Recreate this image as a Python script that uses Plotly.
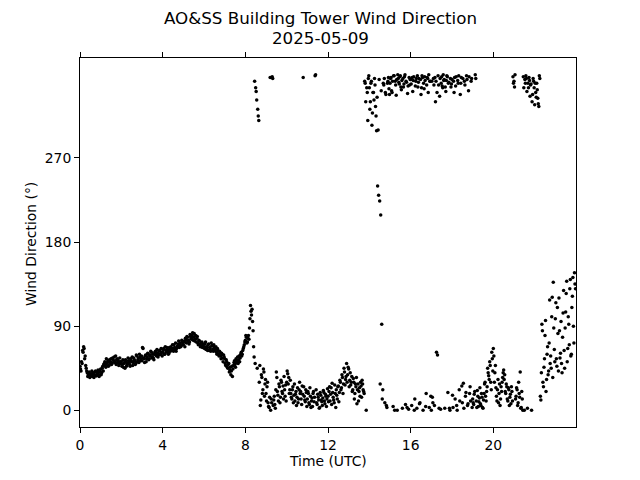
import plotly.graph_objects as go

# Wind direction (degrees).
# Set A: readings every 3 minutes from hh:00; set B: every 3 minutes from hh:01.5
# Each row = one UTC hour (20 readings).
dir_a = [
    [47, 42, 50, 62, 66, 58, 45, 40, 38, 41, 37, 39, 36, 40, 38, 42, 37, 39, 41, 38],
    [44, 40, 47, 49, 52, 46, 50, 53, 48, 51, 55, 50, 54, 57, 52, 49, 55, 53, 50, 52],
    [52, 49, 46, 51, 54, 47, 50, 53, 49, 55, 52, 48, 56, 53, 50, 58, 54, 51, 57, 55],
    [53, 66, 55, 58, 52, 57, 60, 55, 59, 62, 57, 56, 60, 63, 58, 61, 59, 64, 60, 62],
    [62, 66, 60, 64, 67, 63, 61, 65, 68, 64, 66, 70, 65, 63, 68, 71, 67, 72, 69, 73],
    [70, 74, 77, 72, 78, 75, 73, 79, 76, 83, 78, 74, 80, 77, 72, 75, 71, 69, 73, 70],
    [68, 71, 65, 67, 70, 64, 66, 72, 69, 63, 67, 65, 62, 66, 60, 63, 58, 61, 56, 59],
    [55, 48, 52, 45, 50, 43, 38, 47, 44, 51, 49, 55, 53, 50, 58, 56, 62, 60, 66, 70],
    [75, 78, 73, 80, 88, 112, 102, 95, 68, 352, 345, 332, 322, 310, 48, 11, 35, 22, 41, 28],
    [18, 25, 8, 3, 356, 12, 357, 5, 15, 2, 41, 20, 10, 25, 14, 30, 18, 12, 22, 27],
    [30, 39, 35, 22, 18, 12, 25, 16, 10, 20, 14, 8, 22, 18, 12, 26, 356, 15, 9, 19],
    [12, 18, 6, 15, 10, 4, 20, 14, 359, 8, 17, 11, 3, 16, 9, 13, 19, 7, 15, 12],
    [15, 20, 10, 24, 29, 14, 8, 18, 22, 12, 26, 19, 30, 24, 35, 28, 41, 33, 50, 38],
    [44, 32, 27, 36, 22, 30, 18, 25, 7, 28, 20, 15, 26, 32, 22, 18, 350, 0, 340, 355],
    [345, 330, 352, 318, 340, 355, 325, 299, 240, 230, 224, 209, 92, 22, 348, 8, 338, 3, 352, 344],
    [350, 356, 340, 4, 358, 352, 337, 0, 355, 349, 358, 343, 2, 346, 357, 6, 351, 339, 1, 348],
    [354, 5, 341, 357, 12, 352, 2, 346, 355, 8, 338, 358, 0, 344, 353, 18, 356, 340, 3, 352],
    [0, 14, 355, 5, 330, 62, 59, 348, 336, 1, 357, 345, 353, 2, 341, 358, 19, 351, 0, 346],
    [354, 3, 340, 12, 357, 0, 350, 22, 338, 356, 8, 29, 352, 15, 358, 5, 342, 18, 10, 355],
    [12, 6, 20, 355, 3, 15, 9, 24, 5, 14, 2, 18, 30, 10, 25, 40, 33, 48, 22, 55],
    [66, 30, 48, 15, 22, 8, 28, 12, 20, 35, 43, 38, 18, 25, 10, 22, 14, 7, 20, 357],
    [352, 359, 15, 22, 8, 18, 41, 3, 12, 357, 0, 350, 355, 2, 345, 353, 348, 0, 338, 352],
    [327, 340, 350, 334, 325, 355, 11, 92, 30, 46, 80, 20, 60, 38, 72, 50, 45, 121, 137, 65],
    [98, 55, 110, 42, 85, 61, 50, 78, 128, 45, 105, 138, 66, 92, 130, 58, 110, 142, 72, 135],
]
dir_b = [
    [44, 52, 64, 68, 55, 48, 42, 36, 40, 35, 38, 42, 39, 35, 41, 37, 40, 43, 36, 42],
    [38, 45, 42, 50, 48, 55, 51, 47, 54, 52, 49, 56, 53, 51, 58, 54, 51, 48, 56, 50],
    [47, 54, 50, 45, 52, 49, 56, 51, 47, 53, 57, 51, 54, 49, 59, 52, 56, 60, 53, 58],
    [67, 56, 51, 59, 55, 61, 54, 58, 63, 56, 60, 54, 62, 59, 65, 57, 63, 60, 66, 58],
    [65, 60, 68, 62, 65, 60, 67, 63, 66, 70, 63, 67, 72, 66, 69, 74, 70, 68, 75, 71],
    [73, 68, 75, 79, 74, 71, 81, 77, 80, 75, 82, 76, 73, 79, 70, 74, 68, 72, 67, 71],
    [66, 73, 68, 64, 71, 67, 63, 69, 65, 70, 64, 68, 60, 64, 58, 62, 55, 60, 52, 57],
    [50, 54, 46, 49, 41, 46, 42, 36, 48, 53, 46, 51, 57, 54, 52, 60, 58, 64, 68, 73],
    [80, 72, 77, 76, 98, 106, 108, 85, 57, 50, 341, 45, 315, 30, 5, 38, 18, 44, 15, 33],
    [10, 30, 4, 14, 0, 8, 355, 11, 6, 22, 35, 16, 28, 8, 32, 20, 26, 36, 15, 10],
    [42, 28, 18, 32, 14, 22, 8, 28, 17, 5, 24, 12, 30, 20, 6, 17, 25, 11, 22, 4],
    [20, 8, 24, 3, 13, 18, 9, 358, 22, 6, 14, 2, 19, 11, 5, 21, 10, 17, 4, 23],
    [9, 25, 17, 6, 19, 11, 27, 3, 16, 25, 9, 32, 22, 38, 18, 45, 27, 36, 30, 46],
    [25, 40, 30, 20, 34, 12, 28, 35, 22, 10, 24, 30, 14, 28, 20, 352, 330, 345, 310, 358],
    [322, 350, 305, 340, 332, 348, 315, 335, 300, 354, 28, 342, 12, 350, 355, 340, 5, 350, 356, 338],
    [355, 342, 352, 358, 0, 348, 354, 359, 351, 357, 346, 353, 355, 349, 359, 352, 3, 347, 356, 354],
    [349, 356, 353, 0, 347, 355, 358, 351, 7, 354, 345, 356, 350, 357, 4, 348, 355, 359, 352, 15],
    [352, 8, 348, 356, 352, 340, 358, 2, 355, 350, 347, 359, 354, 346, 353, 357, 350, 2, 355, 349],
    [16, 352, 356, 347, 5, 353, 358, 10, 350, 26, 355, 2, 348, 19, 354, 7, 357, 25, 352, 3],
    [8, 17, 359, 10, 21, 4, 13, 7, 18, 3, 11, 28, 15, 20, 45, 37, 52, 30, 62, 42],
    [58, 40, 24, 10, 33, 18, 5, 25, 30, 40, 33, 20, 28, 12, 24, 5, 17, 25, 10, 350],
    [346, 12, 24, 5, 30, 14, 2, 20, 0, 345, 354, 358, 341, 350, 356, 336, 349, 330, 355, 345],
    [350, 335, 343, 328, 358, 15, 40, 85, 25, 55, 96, 33, 68, 42, 118, 58, 100, 35, 88, 52],
    [115, 47, 82, 120, 56, 95, 40, 104, 64, 88, 125, 52, 100, 70, 140, 60, 122, 90, 147, 130],
]
sample_minutes = 3
offset_b_minutes = 1.5

x_tick_vals = [0, 4, 8, 12, 16, 20]
y_tick_vals = [0, 90, 180, 270]
title_line1 = "AO&SS Building Tower Wind Direction"
title_line2 = "2025-05-09"
x_title = "Time (UTC)"
y_title = "Wind Direction (°)"

hours, direction = [], []
for rows, off in ((dir_a, 0.0), (dir_b, offset_b_minutes)):
    for h, row in enumerate(rows):
        for i, v in enumerate(row):
            hours.append(h + (i * sample_minutes + off) / 60.0)
            direction.append(v)

font_family = "DejaVu Sans"
fig = go.Figure()
fig.add_trace(go.Scatter(
    x=hours, y=direction, mode="markers",
    marker=dict(color="black", size=3.5, line=dict(width=0)),
    showlegend=False, hoverinfo="skip",
))

L, R, T, B = 80, 64, 58, 53
PH = 480 - T - B
PW = 640 - L - R

fig.update_layout(
    width=640, height=480,
    margin=dict(l=L, r=R, t=T, b=B, autoexpand=False),
    paper_bgcolor="white", plot_bgcolor="white",
    font=dict(family=font_family, size=13.9, color="black"),
)
fig.update_xaxes(
    range=[0, 24], tickvals=x_tick_vals, ticktext=[str(v) for v in x_tick_vals],
    showgrid=False, zeroline=False, showline=True, linecolor="black", linewidth=1,
    mirror="ticks", ticks="outside", ticklen=5, tickcolor="black", tickwidth=1,
    automargin=False, tickfont=dict(size=13.9),
)
fig.update_yaxes(
    range=[-17.95, 376.95], tickvals=y_tick_vals, ticktext=[str(v) for v in y_tick_vals],
    showgrid=False, zeroline=False, showline=True, linecolor="black", linewidth=1,
    mirror=True, ticks="outside", ticklen=5, tickcolor="black", tickwidth=1,
    automargin=False, tickfont=dict(size=13.9),
)

ann = [
    dict(text=title_line1, x=(320 - L) / PW, y=(480 - B - 18) / PH, size=16.7, angle=0),
    dict(text=title_line2, x=(320 - L) / PW, y=(480 - B - 38) / PH, size=16.7, angle=0),
    dict(text=x_title, x=0.5, y=(480 - B - 461) / PH, size=13.9, angle=0),
    dict(text=y_title, x=(31 - L) / PW, y=(480 - B - 244) / PH, size=13.9, angle=-90),
]
for a in ann:
    fig.add_annotation(
        text=a["text"], x=a["x"], y=a["y"], xref="paper", yref="paper",
        xanchor="center", yanchor="middle", showarrow=False, textangle=a["angle"],
        font=dict(family=font_family, size=a["size"], color="black"),
    )

fig.write_html("out.html", config={"displayModeBar": False},
               post_script="document.body.style.margin='0px';")
